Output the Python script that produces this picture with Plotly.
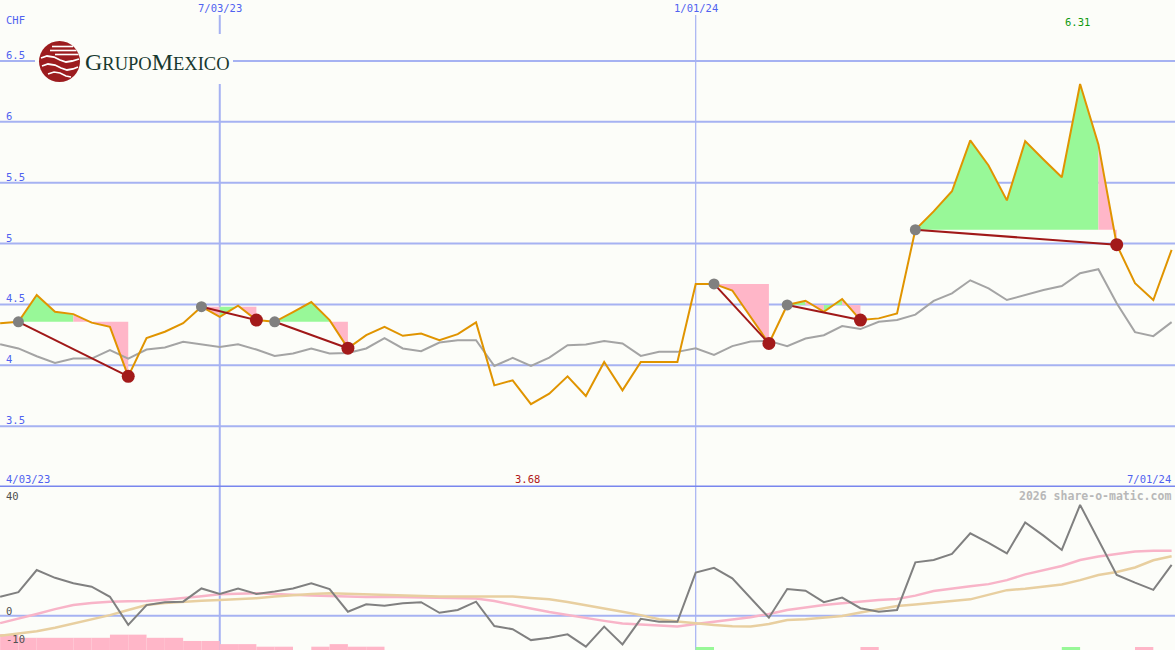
import pandas as pd
import plotly.graph_objects as go

W, H = 1175, 650

# ---------------- data ----------------
dates = pd.date_range("2023-04-10", periods=65, freq="7D")

price = [4.344, 4.357, 4.577, 4.439, 4.420, 4.350, 4.316, 3.909, 4.223, 4.275,
         4.346, 4.481, 4.398, 4.489, 4.371, 4.357, 4.437, 4.519, 4.371, 4.140,
         4.247, 4.316, 4.242, 4.261, 4.206, 4.256, 4.352, 3.835, 3.876, 3.680,
         3.767, 3.909, 3.747, 4.027, 3.794, 4.027, 4.027, 4.027, 4.668, 4.668,
         4.614, 4.398, 4.179, 4.495, 4.530, 4.439, 4.544, 4.371, 4.385, 4.426,
         5.113, 5.264, 5.429, 5.847, 5.641, 5.354, 5.841, 5.690, 5.544, 6.310,
         5.814, 4.990, 4.674, 4.536, 4.948]

average = [4.173, 4.138, 4.074, 4.019, 4.055, 4.055, 4.124, 4.055, 4.129, 4.146,
           4.192, 4.173, 4.151, 4.173, 4.129, 4.077, 4.096, 4.138, 4.096, 4.101,
           4.138, 4.223, 4.138, 4.115, 4.187, 4.206, 4.206, 3.994, 4.060, 3.994,
           4.063, 4.165, 4.171, 4.200, 4.179, 4.077, 4.110, 4.110, 4.140, 4.085,
           4.157, 4.195, 4.200, 4.157, 4.220, 4.247, 4.322, 4.297, 4.357, 4.371,
           4.416, 4.529, 4.591, 4.698, 4.632, 4.536, 4.577, 4.618, 4.651, 4.756,
           4.789, 4.509, 4.272, 4.239, 4.354]

momentum = [6.6, 8.2, 15.9, 13.2, 11.3, 10.1, 6.6, -3.2, 3.7, 4.7,
            4.9, 9.5, 7.6, 9.5, 7.6, 8.4, 9.5, 11.3, 9.3, 1.4,
            4.0, 3.5, 4.3, 4.7, 1.0, 2.0, 4.9, -3.6, -4.7, -8.5,
            -7.7, -6.5, -10.8, -3.8, -10.0, -1.1, -2.1, -2.1, 15.0, 16.7,
            13.0, 6.1, -0.7, 9.3, 8.7, 4.7, 6.3, 2.6, 1.4, 2.0,
            18.6, 19.4, 21.5, 28.7, 25.4, 21.7, 32.5, 27.9, 22.9, 38.6,
            26.4, 14.2, 11.5, 9.0, 17.7]

signal_fast = [-2.6, -1.1, 0.6, 2.3, 3.7, 4.4, 4.9, 5.0, 5.1, 5.6,
               6.1, 6.8, 7.5, 7.6, 7.8, 7.6, 7.2, 7.0, 6.9, 6.6,
               6.5, 6.6, 6.5, 6.4, 6.3, 6.2, 6.0, 5.1, 3.7, 2.5,
               1.3, 0.2, -0.8, -1.8, -2.7, -3.1, -3.6, -3.8, -2.9, -2.0,
               -1.3, -0.5, 0.6, 2.0, 2.9, 3.7, 4.3, 4.9, 5.5, 5.8,
               7.0, 8.6, 9.5, 10.3, 11.0, 12.4, 14.4, 15.9, 17.3, 19.4,
               20.6, 21.5, 22.4, 22.6, 22.6]

signal_slow = [-7.0, -6.1, -5.4, -4.2, -2.7, -1.2, 0.2, 2.0, 3.7, 4.4,
               4.9, 5.2, 5.5, 5.8, 6.1, 6.7, 7.2, 7.6, 7.8, 7.6,
               7.5, 7.3, 7.1, 6.8, 6.7, 6.7, 6.7, 6.7, 6.7, 6.2,
               5.7, 4.8, 3.7, 2.7, 1.4, 0.2, -1.2, -2.0, -2.7, -3.2,
               -3.7, -3.8, -2.9, -1.5, -1.2, -0.6, -0.1, 1.1, 2.3, 3.4,
               3.9, 4.6, 5.1, 5.7, 7.2, 8.9, 9.4, 10.1, 10.9, 12.4,
               14.2, 15.2, 16.8, 19.3, 20.7]

N = None
bar_top = [-6.4, -7.7, -7.7, -7.7, -7.7, -7.7, -6.6, -6.6, -7.7, -7.7,
           -8.8, -8.8, -9.9, -9.9, -10.8, -10.8, N, -10.8, -9.9, -10.8,
           -10.8, N, N, N, N, N, N, N, N, N,
           N, N, N, N, N, N, N, N, -10.9, N,
           N, N, N, N, N, N, N, -10.9, N, N,
           N, N, N, N, N, N, N, N, -10.9, N,
           N, N, -10.9, N, N]
bar_up = {38, 58}   # weeks with green bars

# trade signals: (start week, end week)
signals = [(1, 7), (11, 14), (15, 19), (39, 42), (43, 47), (50, 61)]

price_ticks = [6.5, 6, 5.5, 5, 4.5, 4, 3.5]
price_tick_labels = ["6.5", "6", "5.5", "5", "4.5", "4", "3.5"]
low_ticks = [40, 0, -10]
low_tick_labels = ["40", "0", "-10"]
date_marks = ["2023-07-03", "2024-01-01"]
date_mark_labels = ["7/03/23", "1/01/24"]
start_label, end_label = "4/03/23", "7/01/24"
currency = "CHF"

# ---------------- colours ----------------
BG = "#fcfdf9"
ORANGE = "#e09400"
GREY_LINE = "#a4a4a4"
DARK_GREY = "#808080"
PINK = "#ffb6c8"
GREEN = "#98f898"
LPINK = "#f8b4c8"
TAN = "#e8cfa0"
DRED = "#a01818"
GRID = "#a6b2f2"
SEP = "#7886ee"
LBL = "#5062f0"
FONT = "DejaVu Sans Mono"


def PX(x):
    return x / W


def PY(y):
    return 1 - y / H


fig = go.Figure()

# ---- green / pink areas for each signal ----
for s, e in signals:
    lvl = price[s]
    segs = []
    for k in range(s + 1, e + 1):
        c = GREEN if price[k] >= lvl else PINK
        if segs and segs[-1][0] == c:
            segs[-1][2] = k
        else:
            segs.append([c, k - 1, k])
    for c, a, b in segs:
        xs = [dates[a]] + list(dates[a:b + 1]) + [dates[b], dates[a]]
        ys = [lvl] + price[a:b + 1] + [lvl, lvl]
        fig.add_trace(go.Scatter(x=xs, y=ys, mode="lines", fill="toself",
                                 fillcolor=c, line=dict(width=0, color=c),
                                 hoverinfo="skip", xaxis="x", yaxis="y"))

# ---- price panel lines ----
fig.add_trace(go.Scatter(x=dates, y=average, mode="lines",
                         line=dict(color=GREY_LINE, width=2), xaxis="x", yaxis="y"))
fig.add_trace(go.Scatter(x=dates, y=price, mode="lines",
                         line=dict(color=ORANGE, width=2), xaxis="x", yaxis="y"))
for s, e in signals:
    fig.add_trace(go.Scatter(x=[dates[s], dates[e]], y=[price[s], price[e]],
                             mode="lines", line=dict(color=DRED, width=2),
                             xaxis="x", yaxis="y"))
fig.add_trace(go.Scatter(x=[dates[s] for s, e in signals], y=[price[s] for s, e in signals],
                         mode="markers", marker=dict(color=DARK_GREY, size=11),
                         xaxis="x", yaxis="y"))
fig.add_trace(go.Scatter(x=[dates[e] for s, e in signals], y=[price[e] for s, e in signals],
                         mode="markers", marker=dict(color="#a31a1a", size=13),
                         xaxis="x", yaxis="y"))

# ---- lower panel ----
BASE = -13
bx, by, bc = [], [], []
for i, v in enumerate(bar_top):
    if v is not None:
        bx.append(dates[i])
        by.append(v - BASE)
        bc.append(GREEN if i in bar_up else PINK)
fig.add_trace(go.Bar(x=bx, y=by, base=BASE, width=7 * 24 * 3600 * 1000, offset=0,
                     marker=dict(color=bc, line=dict(width=0)), xaxis="x2", yaxis="y2"))
fig.add_trace(go.Scatter(x=dates, y=signal_fast, mode="lines",
                         line=dict(color=LPINK, width=2.5), xaxis="x2", yaxis="y2"))
fig.add_trace(go.Scatter(x=dates, y=signal_slow, mode="lines",
                         line=dict(color=TAN, width=2.5), xaxis="x2", yaxis="y2"))
fig.add_trace(go.Scatter(x=dates, y=momentum, mode="lines",
                         line=dict(color=DARK_GREY, width=2), xaxis="x2", yaxis="y2"))

# ---------------- shapes ----------------
shapes = []
for v in price_ticks:
    shapes.append(dict(type="line", xref="paper", yref="y", x0=0, x1=1, y0=v, y1=v,
                       line=dict(color=GRID, width=2), layer="below"))
shapes.append(dict(type="line", xref="paper", yref="y2", x0=0, x1=1, y0=0, y1=0,
                   line=dict(color=GRID, width=2), layer="below"))
for d, wdt in zip(date_marks, [2, 1.2]):
    shapes.append(dict(type="line", xref="x", yref="paper", x0=d, x1=d, y0=0, y1=PY(15),
                       line=dict(color=GRID, width=wdt), layer="below"))
shapes.append(dict(type="line", xref="paper", yref="y", x0=0, x1=1, y0=3.0, y1=3.0,
                   line=dict(color=SEP, width=3), layer="above"))

# logo
shapes.append(dict(type="rect", xref="paper", yref="paper", x0=PX(35), x1=PX(233),
                   y0=PY(84), y1=PY(34), fillcolor=BG, line=dict(width=0), layer="above"))
shapes.append(dict(type="circle", xref="paper", yref="paper", x0=PX(39), x1=PX(80),
                   y0=PY(82), y1=PY(41), fillcolor="#9c1c1f", line=dict(width=0), layer="above"))
for yy, xa, xb in [(46.5, 52, 73), (50.5, 50, 76.5), (54.5, 55, 78.5)]:
    shapes.append(dict(type="line", xref="paper", yref="paper", x0=PX(xa), x1=PX(xb),
                       y0=PY(yy), y1=PY(yy), line=dict(color="white", width=1.6), layer="above"))


def pth(pts):
    s = "M %f,%f" % (PX(pts[0][0]), PY(pts[0][1]))
    for a, b in pts[1:]:
        s += " L %f,%f" % (PX(a), PY(b))
    return s


shapes.append(dict(type="path", xref="paper", yref="paper",
                   path=pth([(41, 58), (47, 56), (54, 57), (60, 60), (66, 62), (72, 61), (79, 59)]),
                   line=dict(color="white", width=1.8), layer="above"))
shapes.append(dict(type="path", xref="paper", yref="paper",
                   path=pth([(42, 66), (48, 64), (55, 65), (61, 68), (67, 70), (73, 69), (78, 67)]),
                   line=dict(color="white", width=1.8), layer="above"))
shapes.append(dict(type="path", xref="paper", yref="paper",
                   path=pth([(48, 74), (54, 72), (60, 73), (66, 76), (71, 77)]),
                   line=dict(color="white", width=1.6), layer="above"))

# ---------------- annotations ----------------
ann = []


def txt(text, x, y, color=LBL, xanchor="left", size=10.5, xref="paper", yref="paper",
        yshift=0, family=FONT):
    ann.append(dict(text=text, x=x, y=y, xref=xref, yref=yref, xanchor=xanchor,
                    yanchor="middle", showarrow=False, yshift=yshift,
                    font=dict(family=family, size=size, color=color)))


txt(currency, PX(4), PY(20))
for v, l in zip(price_ticks, price_tick_labels):
    txt(l, PX(4), v, yref="y", yshift=6)
for v, l in zip(low_ticks, low_tick_labels):
    txt(l, PX(4), v, yref="y2", yshift=5, color="#505050")
for d, l in zip(date_marks, date_mark_labels):
    txt(l, d, PY(8), xref="x", xanchor="center")
txt(start_label, PX(4), PY(479))
txt(end_label, PX(1173), PY(479), xanchor="right")
imax = price.index(max(price))
imin = price.index(min(price))
ann.append(dict(text="%.2f" % max(price), x=dates[imax], y=PY(22), xref="x", yref="paper",
                xanchor="center", yanchor="middle", showarrow=False, xshift=-3,
                font=dict(family=FONT, size=10.5, color="#109a10")))
ann.append(dict(text="%.2f" % min(price), x=dates[imin], y=PY(479), xref="x", yref="paper",
                xanchor="center", yanchor="middle", showarrow=False, xshift=-3,
                font=dict(family=FONT, size=10.5, color="#b01818")))
txt("<b>2026 share-o-matic.com</b>", PX(1173), PY(496), color="#b8b8b8",
    xanchor="right", size=11.5)
ann.append(dict(text="<span style='font-size:24px'>G</span>RUPO"
                     "<span style='font-size:24px'>M</span>EXICO",
                x=PX(83), y=PY(62), xref="paper", yref="paper", xanchor="left",
                yanchor="middle", showarrow=False,
                font=dict(family="Liberation Serif", size=18.5, color="#17382f")))

TOP = 1 - 487 / H
fig.update_layout(
    width=W, height=H, margin=dict(l=0, r=0, t=0, b=0),
    paper_bgcolor=BG, plot_bgcolor=BG, showlegend=False, hovermode=False,
    xaxis=dict(domain=[0, 1], range=["2023-04-09 23:00", "2024-07-02 07:00"],
               visible=False, showgrid=False, anchor="y"),
    yaxis=dict(domain=[TOP, 1], range=[3.0, 7.0], visible=False, showgrid=False,
               anchor="x"),
    xaxis2=dict(domain=[0, 1], range=["2023-04-09 23:00", "2024-07-02 07:00"],
                visible=False, showgrid=False, anchor="y2", matches="x"),
    yaxis2=dict(domain=[0, TOP], range=[-11.95, 44.84], visible=False, showgrid=False,
                anchor="x2"),
    shapes=shapes, annotations=ann,
)

fig.write_html("out.html", config={"displayModeBar": False},
               post_script="document.body.style.margin='0';"
                           "document.body.style.overflow='hidden';")
